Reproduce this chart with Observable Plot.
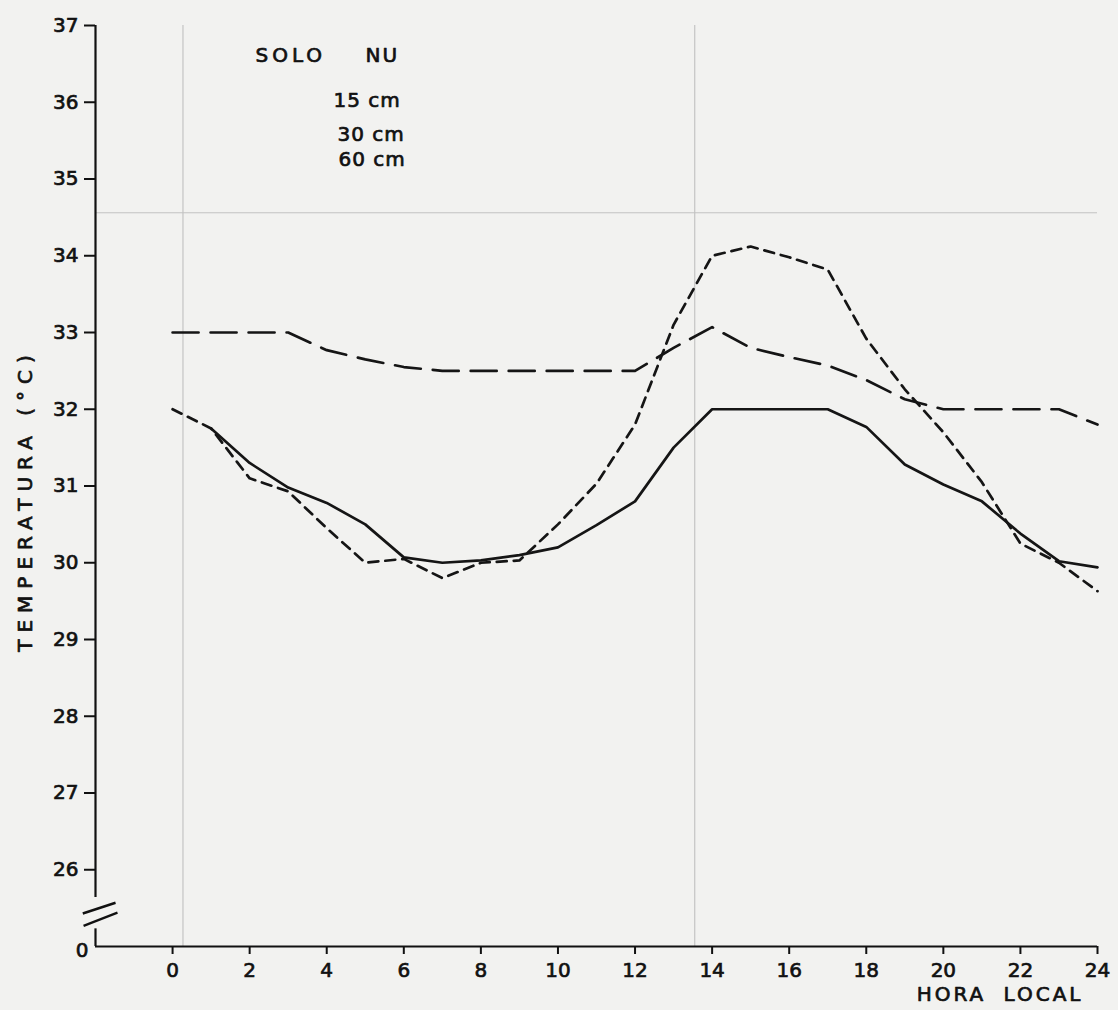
<!DOCTYPE html>
<html><head><meta charset="utf-8">
<script src="https://cdn.jsdelivr.net/npm/d3@7"></script>
<script src="https://cdn.jsdelivr.net/npm/@observablehq/plot@0.6"></script>
<style>
html,body{margin:0;padding:0;background:#f2f2f0;}
#chart svg{display:block;}
</style></head><body><div id="chart"></div>
<script>
// Hour of day
const hours = [0,1,2,3,4,5,6,7,8,9,10,11,12,13,14,15,16,17,18,19,20,21,22,23,24];
// Soil temperature (°C), bare soil ("solo nu")
const t15 = [32.0,31.75,31.1,30.93,30.45,30.0,30.05,29.8,30.0,30.03,30.5,31.03,31.8,33.1,34.0,34.12,33.98,33.82,32.92,32.26,31.7,31.05,30.25,30.0,29.63];
const t30 = [null,31.75,31.3,30.98,30.78,30.5,30.07,30.0,30.03,30.1,30.2,30.49,30.8,31.5,32.0,32.0,32.0,32.0,31.77,31.28,31.02,30.8,30.38,30.02,29.94];
const t60 = [33.0,33.0,33.0,33.0,32.77,32.65,32.55,32.5,32.5,32.5,32.5,32.5,32.5,32.8,33.07,32.8,32.68,32.57,32.38,32.13,32.0,32.0,32.0,32.0,31.8];

const yTicks = [26,27,28,29,30,31,32,33,34,35,36,37];
const yBase = [25];           // broken-axis origin, labelled "0"
const xTicks = [0,2,4,6,8,10,12,14,16,18,20,22,24];
const xStart = [-2];
const yAxisUpper = [25.64, 37];
const yAxisLower = [25, 25.23];
const axisBreak = [
  {x1:-2.33, y1:25.43, x2:-1.48, y2:25.57},
  {x1:-2.31, y1:25.27, x2:-1.43, y2:25.44}
];
const scanX = [0.27, 13.55];
const scanY = [34.56];

const legendHead = ["SOLO", "NU"];
const legendLabels = ["15 cm", "30 cm", "60 cm"];
const yTitle = "TEMPERATURA (°C)";
const xTitle = "HORA LOCAL";

const series = [
  {name: "15 cm", vals: t15, dash: "10,7"},
  {name: "30 cm", vals: t30, dash: null},
  {name: "60 cm", vals: t60, dash: "26,12"}
];

const FS = 20;
const TXT = {fontSize: FS, fill: "#111", stroke: "#111", strokeWidth: 0.7};
const lineMarks = series.map(s => Plot.line(
  hours.map((h, i) => ({h, v: s.vals[i]})).filter(d => d.v != null),
  {x: "h", y: "v", stroke: "#151515", strokeWidth: 2.7, strokeDasharray: s.dash || undefined, strokeLinejoin: "round"}
));

const chart = Plot.plot({
  width: 1118,
  height: 1010,
  marginLeft: 95,
  marginRight: 21,
  marginTop: 25,
  marginBottom: 64,
  x: {domain: [-2, 24]},
  y: {domain: [25, 37]},
  style: {fontFamily: "'DejaVu Sans'", fontSize: "20px", background: "transparent", color: "#111"},
  marks: [
    Plot.ruleX(scanX, {stroke: "#bbbbbb", strokeWidth: 1}),
    Plot.ruleY(scanY, {stroke: "#c2c2c2", strokeWidth: 1}),
    Plot.ruleY(yBase, {stroke: "#111", strokeWidth: 2.2}),
    Plot.ruleX(xStart, {y1: yAxisUpper[0], y2: yAxisUpper[1], stroke: "#111", strokeWidth: 2.2}),
    Plot.ruleX(xStart, {y1: yAxisLower[0], y2: yAxisLower[1], stroke: "#111", strokeWidth: 2.2}),
    Plot.link(axisBreak, {x1: "x1", y1: "y1", x2: "x2", y2: "y2", stroke: "#111", strokeWidth: 2.4}),
    Plot.axisY(yTicks, {anchor: "left", tickSize: 11, tickPadding: 6, strokeWidth: 2, label: null, fontSize: FS, tickFormat: d => String(d)}),
    Plot.axisY(yBase, {anchor: "left", tickSize: 0, tickPadding: 7, tickFormat: () => "0", label: null, dy: 4, fontSize: FS}),
    Plot.axisX(xTicks, {anchor: "bottom", tickSize: 8, tickPadding: 8, strokeWidth: 2, label: null, fontSize: FS, tickFormat: d => String(d)}),
    ...lineMarks,
    Plot.text([legendHead[0]], {frameAnchor: "top-left", dx: 160, dy: 22, textAnchor: "start", ...TXT}),
    Plot.text([legendHead[1]], {frameAnchor: "top-left", dx: 270, dy: 22, textAnchor: "start", ...TXT}),
    Plot.text([legendLabels[0]], {frameAnchor: "top-left", dx: 238, dy: 67, textAnchor: "start", ...TXT}),
    Plot.text([legendLabels[1]], {frameAnchor: "top-left", dx: 242, dy: 101, textAnchor: "start", ...TXT}),
    Plot.text([legendLabels[2]], {frameAnchor: "top-left", dx: 243, dy: 126, textAnchor: "start", ...TXT}),
    Plot.text([yTitle], {frameAnchor: "left", dx: -70, dy: 14, rotate: -90, textAnchor: "middle", ...TXT}),
    Plot.text([xTitle], {frameAnchor: "bottom-right", dx: -14, dy: 54, textAnchor: "end", ...TXT})
  ]
});

const sel = d3.select(chart);
// heavier lettering for axis tick labels (pen-drawn look)
sel.selectAll("g[aria-label='y-axis tick label'] text, g[aria-label='x-axis tick label'] text")
  .attr("stroke", "#111").attr("stroke-width", 0.7).attr("paint-order", "stroke");
const spacing = {"SOLO": "4px", "NU": "2px", "15 cm": "1px", "30 cm": "1px", "60 cm": "1px",
  [yTitle]: "7px", [xTitle]: "3px"};
sel.selectAll("text").each(function() {
  const t = this.textContent;
  if (spacing[t]) {
    this.setAttribute("letter-spacing", spacing[t]);
    if (t === xTitle) this.setAttribute("word-spacing", "8px");
  }
});
document.getElementById("chart").appendChild(chart);
</script>
</body></html>
